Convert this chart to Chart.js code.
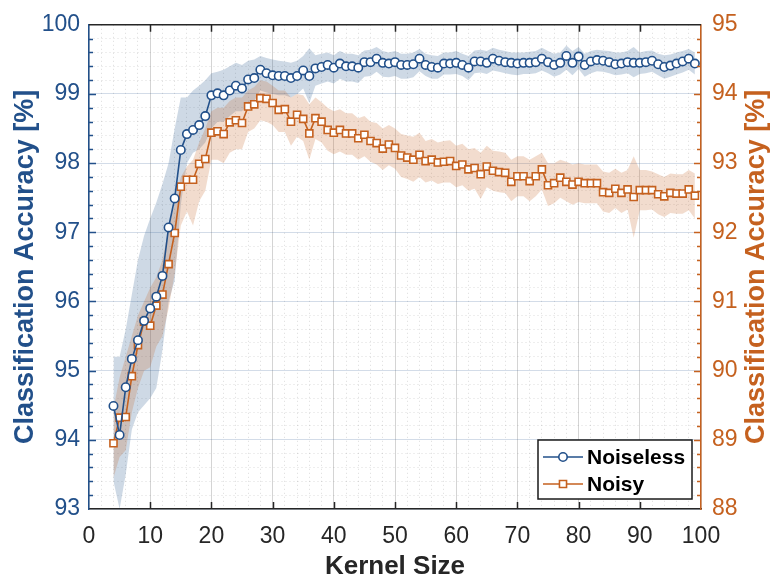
<!DOCTYPE html>
<html lang="en">
<head>
<meta charset="UTF-8">
<title>Classification Accuracy vs Kernel Size</title>
<script src="https://cdn.jsdelivr.net/npm/chart.js"></script>
<style>
    body { margin: 0; background: #ffffff; }
    #chart { display: block; }
</style>
</head>
<body>
<canvas id="chart" width="775" height="580"></canvas>
<script>
// kernel sizes 4..99
const kernelSizes = [
    4, 5, 6, 7, 8, 9, 10, 11, 12, 13, 14, 15, 16, 17, 18, 19, 20, 21, 22, 23,
    24, 25, 26, 27, 28, 29, 30, 31, 32, 33, 34, 35, 36, 37, 38, 39, 40, 41, 42, 43,
    44, 45, 46, 47, 48, 49, 50, 51, 52, 53, 54, 55, 56, 57, 58, 59, 60, 61, 62, 63,
    64, 65, 66, 67, 68, 69, 70, 71, 72, 73, 74, 75, 76, 77, 78, 79, 80, 81, 82, 83,
    84, 85, 86, 87, 88, 89, 90, 91, 92, 93, 94, 95, 96, 97, 98, 99
];

// noiseless: mean accuracy and spread (left axis)
const noiselessAcc = [
    94.49, 94.07, 94.76, 95.17, 95.44, 95.72, 95.90, 96.07, 96.37, 97.07,
    97.49, 98.19, 98.42, 98.48, 98.55, 98.68, 98.98, 99.01, 98.98, 99.05,
    99.12, 99.08, 99.21, 99.23, 99.35, 99.30, 99.27, 99.26, 99.26, 99.23,
    99.26, 99.34, 99.26, 99.37, 99.39, 99.42, 99.38, 99.44, 99.40, 99.40,
    99.38, 99.46, 99.46, 99.51, 99.45, 99.44, 99.46, 99.42, 99.42, 99.43,
    99.51, 99.42, 99.39, 99.38, 99.44, 99.44, 99.45, 99.42, 99.38, 99.47,
    99.47, 99.45, 99.51, 99.48, 99.46, 99.45, 99.44, 99.45, 99.45, 99.46,
    99.51, 99.46, 99.42, 99.45, 99.55, 99.45, 99.54, 99.42, 99.47, 99.49,
    99.48, 99.46, 99.43, 99.44, 99.46, 99.45, 99.45, 99.46, 99.48, 99.43,
    99.39, 99.41, 99.44, 99.47, 99.51, 99.44
];
const noiselessHigh = [
    95.20, 95.20, 95.60, 96.10, 96.60, 96.95, 97.20, 97.43, 97.70, 98.00,
    98.50, 98.95, 98.95, 99.05, 99.12, 99.20, 99.30, 99.32, 99.35, 99.40,
    99.45, 99.42, 99.48, 99.50, 99.55, 99.52, 99.50, 99.48, 99.47, 99.45,
    99.48, 99.55, 99.66, 99.56, 99.58, 99.60, 99.56, 99.62, 99.58, 99.58,
    99.56, 99.63, 99.64, 99.68, 99.62, 99.60, 99.62, 99.58, 99.58, 99.60,
    99.65, 99.58, 99.56, 99.55, 99.60, 99.60, 99.62, 99.58, 99.55, 99.63,
    99.64, 99.62, 99.67, 99.64, 99.62, 99.60, 99.60, 99.60, 99.61, 99.62,
    99.67, 99.62, 99.58, 99.60, 99.70, 99.62, 99.68, 99.58, 99.62, 99.64,
    99.63, 99.62, 99.60, 99.60, 99.62, 99.68, 99.60, 99.62, 99.63, 99.58,
    99.56, 99.57, 99.60, 99.62, 99.65, 99.60
];
const noiselessLow = [
    93.40, 93.00, 93.50, 94.15, 94.40, 94.50, 94.60, 94.75, 95.30, 96.00,
    96.30, 97.40, 98.00, 98.15, 98.20, 98.30, 98.50, 98.60, 98.60, 98.68,
    98.75, 98.75, 98.85, 98.90, 99.05, 99.02, 99.00, 98.98, 98.98, 98.95,
    99.00, 99.08, 98.87, 99.12, 99.15, 99.18, 99.15, 99.22, 99.18, 99.18,
    99.16, 99.25, 99.26, 99.32, 99.25, 99.24, 99.26, 99.22, 99.22, 99.24,
    99.33, 99.26, 99.22, 99.22, 99.28, 99.28, 99.29, 99.26, 99.20, 99.30,
    99.31, 99.29, 99.34, 99.32, 99.30, 99.28, 99.27, 99.29, 99.29, 99.30,
    99.34, 99.30, 99.25, 99.28, 99.35, 99.27, 99.36, 99.25, 99.30, 99.33,
    99.32, 99.30, 99.27, 99.28, 99.30, 99.24, 99.29, 99.30, 99.32, 99.27,
    99.22, 99.25, 99.28, 99.31, 99.35, 99.28
];

// noisy: mean accuracy and spread (right axis)
const noisyAcc = [
    88.95, 89.32, 89.33, 89.92, 90.37, 90.71, 90.65, 90.94, 91.10, 91.54,
    91.99, 92.66, 92.76, 92.76, 92.99, 93.06, 93.44, 93.46, 93.42, 93.59,
    93.62, 93.58, 93.82, 93.85, 93.94, 93.93, 93.87, 93.77, 93.78, 93.60,
    93.70, 93.64, 93.43, 93.65, 93.60, 93.48, 93.44, 93.48, 93.43, 93.43,
    93.36, 93.41, 93.32, 93.29, 93.21, 93.27, 93.22, 93.11, 93.08, 93.05,
    93.12, 93.03, 93.05, 93.01, 93.02, 93.03, 92.96, 92.98, 92.91, 92.93,
    92.84, 92.95, 92.89, 92.87, 92.86, 92.73, 92.81, 92.81, 92.74, 92.81,
    92.91, 92.68, 92.71, 92.79, 92.73, 92.69, 92.73, 92.71, 92.71, 92.71,
    92.58, 92.57, 92.63, 92.57, 92.62, 92.51, 92.61, 92.61, 92.61, 92.55,
    92.52, 92.57, 92.56, 92.56, 92.62, 92.53
];
const noisyHigh = [
    89.45, 89.90, 90.20, 90.50, 90.80, 91.00, 91.20, 91.35, 91.60, 92.05,
    92.40, 92.80, 92.95, 93.05, 93.30, 93.50, 93.75, 93.80, 93.80, 93.90,
    93.95, 93.95, 94.05, 94.10, 94.20, 94.18, 94.12, 94.05, 94.05, 93.95,
    94.00, 93.98, 93.85, 93.95, 93.88, 93.80, 93.75, 93.78, 93.72, 93.72,
    93.65, 93.68, 93.60, 93.58, 93.50, 93.55, 93.50, 93.42, 93.40, 93.38,
    93.44, 93.32, 93.35, 93.30, 93.32, 93.33, 93.25, 93.28, 93.20, 93.22,
    93.15, 93.25, 93.18, 93.17, 93.15, 93.05, 93.10, 93.10, 93.05, 93.10,
    93.15, 93.00, 93.00, 93.05, 93.02, 92.98, 93.00, 92.98, 92.98, 92.98,
    92.88, 92.86, 92.92, 92.86, 92.90, 93.10, 92.90, 92.90, 92.88, 92.84,
    92.80, 92.85, 92.84, 92.84, 92.90, 92.85
];
const noisyLow = [
    88.45, 88.75, 88.85, 89.40, 89.75, 90.00, 90.05, 90.35, 90.50, 90.90,
    91.40, 92.10, 92.30, 92.10, 92.45, 92.60, 93.05, 93.05, 93.00, 93.15,
    93.20, 93.20, 93.45, 93.50, 93.62, 93.60, 93.55, 93.45, 93.45, 93.25,
    93.38, 93.32, 93.05, 93.35, 93.30, 93.18, 93.13, 93.17, 93.12, 93.12,
    93.05, 93.10, 93.02, 92.98, 92.90, 92.97, 92.92, 92.80, 92.77, 92.73,
    92.80, 92.72, 92.75, 92.70, 92.72, 92.72, 92.65, 92.68, 92.60, 92.63,
    92.48, 92.65, 92.60, 92.58, 92.57, 92.45, 92.52, 92.52, 92.45, 92.52,
    92.62, 92.38, 92.42, 92.50, 92.45, 92.40, 92.44, 92.42, 92.42, 92.42,
    92.30, 92.28, 92.35, 92.28, 92.33, 91.92, 92.32, 92.32, 92.33, 92.26,
    92.22, 92.28, 92.27, 92.27, 92.32, 92.20
];

// labelled ticks
const xTickLabels = [0, 10, 20, 30, 40, 50, 60, 70, 80, 90, 100];
const leftTickLabels = [93, 94, 95, 96, 97, 98, 99, 100];
const rightTickLabels = [88, 89, 90, 91, 92, 93, 94, 95];

const BLUE = '#22508a';
const ORANGE = '#c5611f';
const BLUE_BAND = 'rgba(34, 80, 138, 0.22)';
const ORANGE_BAND = 'rgba(197, 97, 31, 0.22)';
const DARK = '#262626';
const FONT = "'Liberation Sans', Arial, Helvetica, sans-serif";

Chart.defaults.font.family = FONT;

function toPoints(values) {
    return kernelSizes.map((k, i) => ({ x: k, y: values[i] }));
}

function isWhole(v) {
    return Math.abs(v - Math.round(v)) < 1e-6;
}

function isLabelled(v, list) {
    return list.some(t => Math.abs(t - v) < 1e-6);
}

// grid: solid for labelled ticks, dotted for the minor ones
function gridColor(major, minor, list) {
    return ctx => (ctx.tick && isLabelled(ctx.tick.value, list)) ? major : minor;
}
function gridDash(list) {
    return ctx => (ctx.tick && !isLabelled(ctx.tick.value, list)) ? [1, 3] : [];
}

// MATLAB style tick marks pointing into the plot, plus the top frame line
const innerTicks = {
    id: 'innerTicks',
    afterDraw(chart) {
        const { ctx, chartArea: a, scales } = chart;
        ctx.save();
        ctx.lineWidth = 1.5;

        ctx.strokeStyle = DARK;
        ctx.beginPath();
        ctx.moveTo(a.left, a.top);
        ctx.lineTo(a.right, a.top);
        scales.x.ticks.forEach(t => {
            if (!isLabelled(t.value, xTickLabels) || t.value === 0 || t.value === 100) return;
            const px = Math.round(scales.x.getPixelForValue(t.value)) + 0.5;
            ctx.moveTo(px, a.bottom);
            ctx.lineTo(px, a.bottom - 7);
            ctx.moveTo(px, a.top);
            ctx.lineTo(px, a.top + 7);
        });
        ctx.stroke();

        [['y', BLUE, 1], ['y2', ORANGE, -1]].forEach(([id, color, dir]) => {
            const s = scales[id];
            const x0 = dir > 0 ? a.left : a.right;
            ctx.strokeStyle = color;
            ctx.beginPath();
            s.ticks.forEach(t => {
                if (t.value <= s.min + 1e-6 || t.value >= s.max - 1e-6) return;
                const len = isWhole(t.value) ? 7 : 4;
                const py = Math.round(s.getPixelForValue(t.value)) + 0.5;
                ctx.moveTo(x0, py);
                ctx.lineTo(x0 + dir * len, py);
            });
            ctx.stroke();
        });
        ctx.restore();
    }
};

// right-hand axis title, reading bottom to top like the left one
const rightTitle = {
    id: 'rightTitle',
    afterDraw(chart) {
        const { ctx, chartArea: a } = chart;
        ctx.save();
        ctx.translate(a.right + 56, (a.top + a.bottom) / 2);
        ctx.rotate(-Math.PI / 2);
        ctx.font = 'bold 27px ' + FONT;
        ctx.fillStyle = ORANGE;
        ctx.textAlign = 'center';
        ctx.textBaseline = 'middle';
        ctx.fillText('Classification Accuracy [%]', 0, 0);
        ctx.restore();
    }
};

// boxed legend in the lower right corner of the plot
const boxLegend = {
    id: 'boxLegend',
    afterDraw(chart) {
        const { ctx, chartArea: a } = chart;
        const items = chart.data.datasets.filter(d => d.inLegend);
        const w = 154, h = 59;
        const left = a.right - 9 - w, top = a.bottom - 10 - h;
        ctx.save();
        ctx.fillStyle = '#ffffff';
        ctx.fillRect(left, top, w, h);
        ctx.lineWidth = 1.5;
        ctx.strokeStyle = '#1a1a1a';
        ctx.strokeRect(left, top, w, h);
        items.forEach((d, i) => {
            const cy = top + 17 + i * 27;
            ctx.strokeStyle = d.borderColor;
            ctx.lineWidth = d.borderWidth;
            ctx.beginPath();
            ctx.moveTo(left + 5, cy);
            ctx.lineTo(left + 45, cy);
            ctx.stroke();
            ctx.fillStyle = '#ffffff';
            ctx.strokeStyle = d.pointBorderColor;
            ctx.lineWidth = d.pointBorderWidth;
            ctx.beginPath();
            if (d.pointStyle === 'rect') {
                const s = d.pointRadius * Math.SQRT1_2;
                ctx.rect(left + 25 - s, cy - s, 2 * s, 2 * s);
            } else {
                ctx.arc(left + 25, cy, d.pointRadius, 0, Math.PI * 2);
            }
            ctx.fill();
            ctx.stroke();
            ctx.font = 'bold 21px ' + FONT;
            ctx.fillStyle = '#000000';
            ctx.textAlign = 'left';
            ctx.textBaseline = 'middle';
            ctx.fillText(d.label, left + 49, cy + 1);
        });
        ctx.restore();
    }
};

const bandStyle = {
    borderColor: 'rgba(0,0,0,0)',
    borderWidth: 1,
    pointRadius: 0,
    pointHoverRadius: 0
};

new Chart(document.getElementById('chart'), {
    type: 'line',
    data: {
        datasets: [{
            label: 'Noiseless',
            inLegend: true,
            data: toPoints(noiselessAcc),
            yAxisID: 'y',
            borderColor: BLUE,
            borderWidth: 1.6,
            pointStyle: 'circle',
            pointRadius: 4.2,
            pointBorderWidth: 1.6,
            pointBorderColor: BLUE,
            pointBackgroundColor: '#ffffff',
            fill: false,
            order: 0
        }, {
            label: 'Noisy',
            inLegend: true,
            data: toPoints(noisyAcc),
            yAxisID: 'y2',
            borderColor: ORANGE,
            borderWidth: 1.6,
            pointStyle: 'rect',
            pointRadius: 5,
            pointBorderWidth: 1.6,
            pointBorderColor: ORANGE,
            pointBackgroundColor: '#ffffff',
            fill: false,
            order: 1
        }, {
            label: 'noiseless-high',
            data: toPoints(noiselessHigh),
            yAxisID: 'y',
            backgroundColor: BLUE_BAND,
            fill: '+1',
            order: 4,
            ...bandStyle
        }, {
            label: 'noiseless-low',
            data: toPoints(noiselessLow),
            yAxisID: 'y',
            fill: false,
            order: 4,
            ...bandStyle
        }, {
            label: 'noisy-high',
            data: toPoints(noisyHigh),
            yAxisID: 'y2',
            backgroundColor: ORANGE_BAND,
            fill: '+1',
            order: 3,
            ...bandStyle
        }, {
            label: 'noisy-low',
            data: toPoints(noisyLow),
            yAxisID: 'y2',
            fill: false,
            order: 3,
            ...bandStyle
        }]
    },
    options: {
        responsive: false,
        animation: false,
        layout: { padding: { top: 21, left: 0, right: 0, bottom: 0 } },
        plugins: {
            legend: { display: false },
            tooltip: { enabled: false }
        },
        scales: {
            x: {
                type: 'linear',
                min: 0,
                max: 100,
                ticks: {
                    stepSize: 2,
                    autoSkip: false,
                    maxRotation: 0,
                    padding: 14,
                    color: DARK,
                    font: { size: 23 },
                    callback: v => isLabelled(v, xTickLabels) ? String(v) : ''
                },
                grid: {
                    drawTicks: false,
                    lineWidth: 1,
                    color: gridColor('rgba(38,38,38,0.2)', 'rgba(38,38,38,0.16)', xTickLabels)
                },
                border: { color: DARK, width: 1.5, dash: gridDash(xTickLabels) },
                title: {
                    display: true,
                    text: 'Kernel Size',
                    color: DARK,
                    font: { size: 26, weight: 'bold', lineHeight: 1 },
                    padding: { top: 0, bottom: 0 }
                },
                afterFit: s => { s.height = 71; }
            },
            y: {
                position: 'left',
                min: 93,
                max: 100,
                ticks: {
                    stepSize: 0.2,
                    autoSkip: false,
                    padding: 9,
                    color: BLUE,
                    font: { size: 23 },
                    callback: v => isLabelled(v, leftTickLabels) ? String(Math.round(v)) : ''
                },
                grid: {
                    drawTicks: false,
                    lineWidth: 1,
                    color: gridColor('rgba(34,80,138,0.2)', 'rgba(38,38,38,0.16)', leftTickLabels)
                },
                border: { color: BLUE, width: 1.5, dash: gridDash(leftTickLabels) },
                title: {
                    display: true,
                    text: 'Classification Accuracy [%]',
                    color: BLUE,
                    font: { size: 27, weight: 'bold', lineHeight: 1.2 },
                    padding: { top: 9, bottom: 0 }
                },
                afterFit: s => { s.width = 89; }
            },
            y2: {
                position: 'right',
                min: 88,
                max: 95,
                ticks: {
                    stepSize: 0.2,
                    autoSkip: false,
                    padding: 11,
                    color: ORANGE,
                    font: { size: 23 },
                    callback: v => isLabelled(v, rightTickLabels) ? String(Math.round(v)) : ''
                },
                grid: { display: false, drawTicks: false },
                border: { color: ORANGE, width: 1.5 },
                afterFit: s => { s.width = 74; }
            }
        }
    },
    plugins: [innerTicks, rightTitle, boxLegend]
});
</script>
</body>
</html>
